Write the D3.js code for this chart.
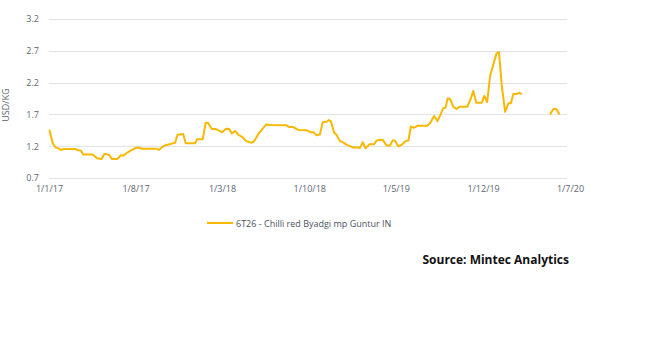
<!DOCTYPE html>
<html><head><meta charset="utf-8">
<script src="https://cdn.jsdelivr.net/npm/d3@7"></script>
<style>body{margin:0;background:#fff;font-family:"Open Sans",sans-serif;}</style>
</head><body>
<svg id="c" width="645" height="357"></svg>
<script>
const dates = ["2017-01-02","2017-01-10","2017-01-17","2017-01-23","2017-01-30","2017-02-05","2017-03-08","2017-03-11","2017-03-20","2017-03-26",
"2017-04-18","2017-04-29","2017-05-10","2017-05-17","2017-05-29","2017-06-04","2017-06-18","2017-06-26","2017-07-02","2017-07-12",
"2017-07-31","2017-08-08","2017-08-16","2017-09-22","2017-09-27","2017-10-08","2017-10-16","2017-10-29","2017-11-06","2017-11-12",
"2017-11-26","2017-12-02","2017-12-25","2017-12-30","2018-01-13","2018-01-20","2018-01-26","2018-02-04","2018-02-14","2018-03-01",
"2018-03-11","2018-03-19","2018-03-25","2018-04-02","2018-04-10","2018-04-21","2018-04-29","2018-05-13","2018-05-19","2018-05-31",
"2018-06-17","2018-06-27","2018-08-05","2018-08-13","2018-08-23","2018-09-04","2018-09-25","2018-10-04","2018-10-11","2018-10-19",
"2018-10-27","2018-11-03","2018-11-13","2018-11-18","2018-11-23","2018-12-01","2018-12-07","2018-12-15","2018-12-23","2019-01-01",
"2019-01-17","2019-01-29","2019-02-02","2019-02-09","2019-02-16","2019-02-25","2019-03-09","2019-03-15","2019-03-30","2019-04-09",
"2019-04-17","2019-04-23","2019-04-29","2019-05-07","2019-05-15","2019-05-25","2019-06-01","2019-06-07","2019-06-15","2019-06-23",
"2019-07-17","2019-07-24","2019-08-03","2019-08-11","2019-08-20","2019-08-25","2019-08-31","2019-09-05","2019-09-11","2019-09-19",
"2019-09-27","2019-10-04","2019-10-23","2019-11-01","2019-11-07","2019-11-14","2019-11-28","2019-12-04","2019-12-11","2019-12-18",
"2019-12-28","2020-01-03","2020-01-09","2020-01-16","2020-01-24","2020-02-01","2020-02-07","2020-02-13","2020-02-21","2020-02-27",
"2020-03-05","2020-04-10","2020-05-13","2020-05-21","2020-05-28","2020-06-05"];
const values = [1.46,1.25,1.18,1.17,1.14,1.155,1.155,1.14,1.13,1.07,
1.07,1.01,1.00,1.08,1.06,1.00,1.00,1.06,1.05,1.10,
1.17,1.18,1.16,1.16,1.14,1.20,1.22,1.24,1.255,1.38,
1.39,1.245,1.245,1.31,1.31,1.57,1.565,1.47,1.47,1.42,
1.475,1.47,1.40,1.44,1.38,1.34,1.28,1.255,1.28,1.41,
1.54,1.535,1.53,1.50,1.50,1.455,1.45,1.42,1.42,1.37,
1.385,1.575,1.585,1.61,1.59,1.41,1.375,1.28,1.26,1.22,
1.18,1.18,1.17,1.265,1.165,1.23,1.23,1.29,1.30,1.21,
1.21,1.29,1.29,1.20,1.22,1.28,1.29,1.51,1.49,1.52,
1.52,1.56,1.675,1.595,1.715,1.795,1.805,1.95,1.945,1.82,
1.785,1.82,1.82,1.95,2.07,1.885,1.885,1.99,1.895,2.30,
2.53,2.66,2.68,2.135,1.74,1.875,1.875,2.02,2.02,2.04,
2.02,null,1.70,1.78,1.79,1.70];
const yTicks = [0.7,1.2,1.7,2.2,2.7,3.2];
const xTickDates = ["2017-01-01","2017-08-01","2018-03-01","2018-10-01","2019-05-01","2019-12-01","2020-07-01"];
const seriesName = "6T26 - Chilli red Byadgi mp Guntur IN";
const yTitle = "USD/KG";
const sourceText = "Source: Mintec Analytics";

const parse = d3.utcParse("%Y-%m-%d");
const data = dates.map((d,i)=>({date:parse(d), value:values[i]}));
const svg = d3.select("#c");
const x = d3.scaleUtc().domain([parse("2017-01-01"), parse("2020-07-01")]).range([49, 570]);
const y = d3.scaleLinear().domain([0.7, 3.2]).range([178, 19]);
const txt = "#5d6572";

// gridlines
svg.append("g").selectAll("line").data(yTicks).join("line")
  .attr("x1", 49).attr("x2", 567).attr("y1", d=>Math.round(y(d))+0.5).attr("y2", d=>Math.round(y(d))+0.5)
  .attr("stroke", "#dfe3e8").attr("stroke-width", 1);

// y axis
const yAx = svg.append("g").attr("transform","translate(39,0)")
  .call(d3.axisLeft(y).tickValues(yTicks).tickSize(0).tickPadding(0).tickFormat(d3.format(".1f")));
yAx.select(".domain").remove();
yAx.selectAll("text").attr("fill", txt).style("font-size","9px").style("font-family","'Open Sans',sans-serif");

// x axis
const fmt = d => `${d.getUTCDate()}/${d.getUTCMonth()+1}/${String(d.getUTCFullYear()).slice(2)}`;
const xAx = svg.append("g").attr("transform","translate(0,182)")
  .call(d3.axisBottom(x).tickValues(xTickDates.map(parse)).tickSize(0).tickPadding(4).tickFormat(fmt));
xAx.select(".domain").remove();
xAx.selectAll("text").attr("fill", txt).style("font-size","9px").style("font-family","'Open Sans',sans-serif");

// y title
svg.append("text").attr("transform","translate(9,105) rotate(-90)").attr("text-anchor","middle")
  .attr("fill", txt).style("font-size","9px").text(yTitle);

// line
const line = d3.line().defined(d=>d.value!==null).x(d=>x(d.date)).y(d=>y(d.value));
svg.append("path").datum(data).attr("d", line).attr("fill","none")
  .attr("stroke","#f8b800").attr("stroke-width",2).attr("stroke-linejoin","round");

// legend
svg.append("line").attr("x1",207).attr("x2",233).attr("y1",223).attr("y2",223)
  .attr("stroke","#f8b800").attr("stroke-width",2);
svg.append("text").attr("x",236).attr("y",226.5).attr("fill","#4a5260").style("font-size","9px").text(seriesName);

// source
svg.append("text").attr("x",569).attr("y",264).attr("text-anchor","end").attr("fill","#111")
  .style("font-size","12px").style("font-weight","bold").text(sourceText);
</script>
</body></html>
